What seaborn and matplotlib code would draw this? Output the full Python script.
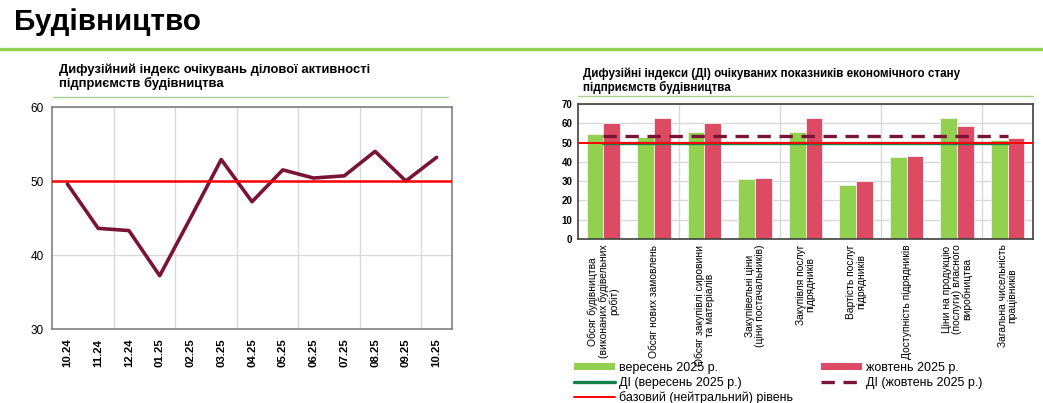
import numpy as np
import pandas as pd
import matplotlib
matplotlib.use("Agg")
import matplotlib.pyplot as plt
from matplotlib.lines import Line2D
from matplotlib.patches import Patch
from matplotlib.ticker import FixedLocator, MultipleLocator
import seaborn as sns

# Дані: лівий графік
months = ['10.24', '11.24', '12.24', '01.25', '02.25', '03.25', '04.25',
          '05.25', '06.25', '07.25', '08.25', '09.25', '10.25']
di_values = [49.6, 43.6, 43.3, 37.2, 45.0, 52.9, 47.2, 51.5, 50.4, 50.7, 54.0, 50.0, 53.2]

# Дані: правий графік
indicators = [
    'Обсяг будівництва\n(виконаних будівельних\nробіт)',
    'Обсяг нових замовлень',
    'Обсяг закупівлі сировини\nта матеріалів',
    'Закупівельні ціни\n(ціни постачальників)',
    'Закупівля послуг\nпідрядників',
    'Вартість послуг\nпідрядників',
    'Доступність підрядників',
    'Ціни на продукцію\n(послуги) власного\nвиробництва',
    'Загальна чисельність\nпрацівників',
]
sep_values = [54.4, 52.9, 55.7, 30.9, 55.7, 27.8, 42.3, 62.9, 51.2]
oct_values = [60.0, 62.6, 60.0, 31.5, 62.6, 30.1, 42.9, 58.6, 52.5]
di_sep = 50.0
di_oct = 53.2
base_level = 50

GREEN = '#92d050'
RED_BAR = '#dc4a64'
MAROON = '#7a1436'
DARK_GREEN = '#14804a'
GRID = '#d9d9d9'
SPINE = '#808080'

sns.set_style('white')
plt.rcParams['font.family'] = ['Liberation Sans', 'DejaVu Sans']
plt.rcParams['text.color'] = 'black'
plt.rcParams['xtick.color'] = 'black'
plt.rcParams['ytick.color'] = 'black'
plt.rcParams['axes.labelcolor'] = 'black'

fig = plt.figure(figsize=(10.43, 4.03), dpi=100)
W, H = 1043, 403

def fx(px):
    return px / W

def fy(py):
    return 1 - py / H

# Заголовок
fig.text(fx(14), fy(22), 'Будівництво', fontsize=21.3, weight='bold', va='center', ha='left')
fig.add_artist(Line2D([0, 1], [fy(48.5), fy(48.5)], color=GREEN, lw=2.4))

# ---------- Лівий графік ----------
ax1 = fig.add_axes([fx(52), fy(329), fx(452) - fx(52), fy(107) - fy(329)])
df1 = pd.DataFrame({'month': months, 'di': di_values})
sns.lineplot(data=df1, x='month', y='di', ax=ax1, color=MAROON, lw=2.6, sort=False)
ax1.axhline(base_level, color='#ff0000', lw=1.8, zorder=3)
ax1.set_xlim(-0.5, len(months) - 0.5)
ax1.set_ylim(30, 60)
ax1.yaxis.set_major_locator(MultipleLocator(10))
ax1.xaxis.set_minor_locator(FixedLocator(np.arange(1.5, len(months) - 1, 2)))
ax1.grid(axis='y', which='major', color=GRID, lw=1)
ax1.grid(axis='x', which='minor', color=GRID, lw=1)
ax1.set_axisbelow(True)
ax1.set_xlabel('')
ax1.set_ylabel('')
ax1.tick_params(axis='x', which='both', length=0, pad=7)
ax1.tick_params(axis='y', length=0, pad=6, labelsize=8.5)
for lbl in ax1.get_xticklabels():
    lbl.set_rotation(90)
    lbl.set_fontweight('bold')
    lbl.set_fontsize(8.2)
for s in ax1.spines.values():
    s.set_color(SPINE)
    s.set_linewidth(1.2)

fig.text(fx(59), fy(63), 'Дифузійний індекс очікувань ділової активності\nпідприємств будівництва',
         fontsize=9.4, weight='bold', va='top', ha='left', linespacing=1.1)
fig.add_artist(Line2D([fx(53), fx(448)], [fy(96.5), fy(96.5)], color='#a9d18e', lw=1))

# ---------- Правий графік ----------
ax2 = fig.add_axes([fx(578), fy(239), fx(1033) - fx(578), fy(104) - fy(239)])
df2 = pd.DataFrame({
    'indicator': indicators * 2,
    'value': sep_values + oct_values,
    'period': ['вересень 2025 р.'] * len(indicators) + ['жовтень 2025 р.'] * len(indicators),
})
sns.barplot(data=df2, x='indicator', y='value', hue='period', ax=ax2,
            palette=[GREEN, RED_BAR], saturation=1, width=0.66, gap=0, legend=False,
            edgecolor='#f2f2f2', linewidth=0.6, zorder=2)
pos = np.arange(len(indicators))
sns.lineplot(x=pos, y=[di_sep] * len(pos), ax=ax2, color=DARK_GREEN, lw=2.4, zorder=3)
ax2.axhline(base_level, color='#ff0000', lw=1.4, zorder=4)
sns.lineplot(x=pos, y=[di_oct] * len(pos), ax=ax2, color=MAROON, lw=2.4,
             linestyle=(0, (4, 2.6)), zorder=5)
ax2.set_xlim(-0.5, len(indicators) - 0.5)
ax2.set_ylim(0, 70)
ax2.yaxis.set_major_locator(MultipleLocator(10))
ax2.xaxis.set_minor_locator(FixedLocator(np.arange(1.5, len(indicators) - 1, 2)))
ax2.grid(axis='y', which='major', color=GRID, lw=1)
ax2.grid(axis='x', which='minor', color=GRID, lw=1)
ax2.set_axisbelow(True)
ax2.set_xlabel('')
ax2.set_ylabel('')
ax2.set_xticks(pos)
ax2.set_xticklabels(indicators, rotation=90, fontsize=7.4, ha='center', va='top',
                    multialignment='center', linespacing=1.0)
ax2.tick_params(axis='x', which='both', length=0, pad=4)
ax2.tick_params(axis='y', length=0, pad=4, labelsize=7)
for lbl in ax2.get_yticklabels():
    lbl.set_fontweight('bold')
for s in ax2.spines.values():
    s.set_color('#404040')
    s.set_linewidth(1.2)

fig.text(fx(583), fy(67), 'Дифузійні індекси (ДІ) очікуваних показників економічного стану\nпідприємств будівництва',
         fontsize=8.35, weight='bold', va='top', ha='left', linespacing=1.12)
fig.add_artist(Line2D([fx(578), fx(1033)], [fy(96), fy(96)], color='#a9d18e', lw=1))

# Легенда
handles = [
    Patch(facecolor=GREEN, edgecolor='none'),
    Line2D([], [], color=DARK_GREEN, lw=2.4),
    Line2D([], [], color='#ff0000', lw=1.4),
    Patch(facecolor=RED_BAR, edgecolor='none'),
    Line2D([], [], color=MAROON, lw=2.4, linestyle=(0, (4, 2.6))),
]
labels = ['вересень 2025 р.', 'ДІ (вересень 2025 р.)', 'базовий (нейтральний) рівень',
          'жовтень 2025 р.', 'ДІ (жовтень 2025 р.)']
fig.legend(handles, labels, loc='upper left', bbox_to_anchor=(fx(574), fy(362)),
           ncol=2, frameon=False, fontsize=9, borderpad=0, borderaxespad=0,
           handlelength=3.3, handleheight=0.5, handletextpad=0.3,
           labelspacing=0.22, columnspacing=2.2)

fig.savefig('out.png', dpi=100)
